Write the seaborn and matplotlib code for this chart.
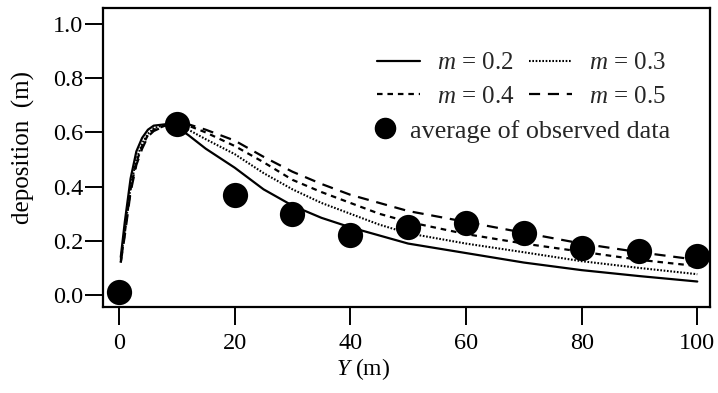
import matplotlib
matplotlib.use("Agg")
import matplotlib.pyplot as plt
import seaborn as sns
import pandas as pd
from matplotlib.lines import Line2D

# ---------------- data ----------------
x_model = [0.3, 1, 2, 3, 4, 5, 6, 8, 10, 12, 15, 20, 25, 30, 35, 40, 45, 50, 60, 70, 80, 90, 100]
m02 = [0.14, 0.27, 0.43, 0.53, 0.58, 0.61, 0.625, 0.63, 0.62, 0.59, 0.54, 0.47, 0.39, 0.33, 0.285, 0.25, 0.22, 0.19, 0.155, 0.12, 0.092, 0.07, 0.05]
m03 = [0.13, 0.24, 0.40, 0.50, 0.56, 0.595, 0.615, 0.63, 0.63, 0.61, 0.575, 0.52, 0.45, 0.39, 0.34, 0.30, 0.26, 0.228, 0.19, 0.158, 0.125, 0.10, 0.077]
m04 = [0.12, 0.23, 0.39, 0.49, 0.55, 0.59, 0.61, 0.625, 0.635, 0.625, 0.60, 0.55, 0.49, 0.425, 0.38, 0.34, 0.30, 0.27, 0.225, 0.19, 0.16, 0.13, 0.107]
m05 = [0.12, 0.22, 0.38, 0.48, 0.54, 0.585, 0.605, 0.625, 0.635, 0.63, 0.61, 0.57, 0.51, 0.455, 0.41, 0.37, 0.34, 0.31, 0.27, 0.23, 0.19, 0.158, 0.13]

x_obs = [0, 10, 20, 30, 40, 50, 60, 70, 80, 90, 100]
y_obs = [0.01, 0.63, 0.37, 0.30, 0.22, 0.25, 0.265, 0.228, 0.172, 0.163, 0.145]

series_labels = ["$m$ = 0.2", "$m$ = 0.3", "$m$ = 0.4", "$m$ = 0.5"]
obs_label = "average of observed data"
x_ticks = [0, 20, 40, 60, 80, 100]
y_ticks = [0.0, 0.2, 0.4, 0.6, 0.8, 1.0]

# ---------------- style ----------------
sns.set_theme(style="ticks")
plt.rcParams["font.family"] = ["Liberation Serif", "DejaVu Serif"]
plt.rcParams["mathtext.fontset"] = "custom"
plt.rcParams["mathtext.it"] = "Liberation Serif:italic"
plt.rcParams["mathtext.rm"] = "Liberation Serif"

FS = 17.5
LFS = 18
styles = {
    series_labels[0]: dict(linestyle="-", linewidth=1.6),
    series_labels[1]: dict(linestyle=(0, (0.8, 0.8)), linewidth=1.5),
    series_labels[2]: dict(linestyle=(0, (2.5, 2.2)), linewidth=1.6),
    series_labels[3]: dict(linestyle=(0, (5, 3.5)), linewidth=1.6),
}

fig = plt.figure(figsize=(7.18, 3.93), dpi=100)
ax = fig.add_axes([103 / 718, 1 - 307 / 393, 607 / 718, 299 / 393])

curves = pd.DataFrame({"x": x_model, series_labels[0]: m02, series_labels[1]: m03,
                       series_labels[2]: m04, series_labels[3]: m05})
for lab in series_labels:
    sns.lineplot(x=curves["x"], y=curves[lab], ax=ax, color="black",
                 legend=False, **styles[lab])

obs = pd.DataFrame({"x": x_obs, "y": y_obs})
sns.scatterplot(data=obs, x="x", y="y", ax=ax, color="black", s=330,
                edgecolor="black", linewidth=0, legend=False, zorder=5)

ax.set_xlim(-2.77, 102.2)
ax.set_ylim(-0.044, 1.059)
ax.set_xticks(x_ticks)
ax.set_xticklabels([str(t) for t in x_ticks])
ax.set_yticks(y_ticks)
ax.set_yticklabels([f"{t:.1f}" for t in y_ticks])
ax.tick_params(axis="both", direction="out", length=13, width=1.4,
               labelsize=FS, color="black", labelcolor="black")
ax.tick_params(axis="x", pad=6)
ax.tick_params(axis="y", pad=1)
for sp in ax.spines.values():
    sp.set_visible(True)
    sp.set_linewidth(1.6)
    sp.set_color("black")

ax.set_xlabel("$Y$ (m)", fontsize=17, color="black")
ax.set_ylabel("deposition  (m)", fontsize=18, color="black")
ax.xaxis.set_label_coords(0.428, -0.163)
ax.yaxis.set_label_coords(-0.112, 0.535)

# legends
handles = [Line2D([], [], color="black", **styles[l]) for l in series_labels]
order = [0, 2, 1, 3]
leg1 = ax.legend([handles[i] for i in order], [series_labels[i] for i in order],
                 ncol=2, loc="upper left", bbox_to_anchor=(0.451, 0.853),
                 frameon=False, fontsize=LFS, handlelength=1.72, handletextpad=0.68,
                 columnspacing=0.6, labelspacing=0.45, borderpad=0, borderaxespad=0)
ax.add_artist(leg1)
obs_handle = Line2D([], [], color="black", marker="o", linestyle="none", markersize=14.5)
ax.legend([obs_handle], [obs_label], loc="upper left", bbox_to_anchor=(0.448, 0.628),
          frameon=False, fontsize=18.8, handlelength=0.8, handletextpad=0.55,
          borderpad=0, borderaxespad=0)

fig.savefig("out.png", dpi=100)
